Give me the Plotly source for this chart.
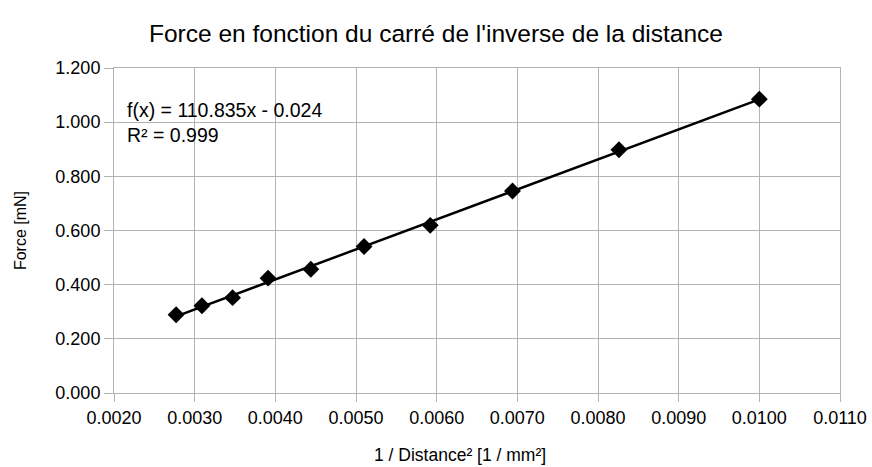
import plotly.graph_objects as go

# Data
inv_dist_sq = [0.00277, 0.00309, 0.00347, 0.00391, 0.00444, 0.00510, 0.00592, 0.00694, 0.00826, 0.01000]
force = [0.289, 0.322, 0.352, 0.424, 0.457, 0.541, 0.619, 0.746, 0.898, 1.085]
slope = 110.835
intercept = -0.024
r_squared = 0.999
x_ticks = [0.0020, 0.0030, 0.0040, 0.0050, 0.0060, 0.0070, 0.0080, 0.0090, 0.0100, 0.0110]
y_ticks = [0.0, 0.2, 0.4, 0.6, 0.8, 1.0, 1.2]

trend_x = [min(inv_dist_sq), max(inv_dist_sq)]
trend_y = [slope * v + intercept for v in trend_x]

FONT = "Liberation Sans, Arial, sans-serif"
GRID = "#b3b3b3"

W, H = 872, 467
L, R, T, B = 114, 32, 68, 74
PW, PH = W - L - R, H - T - B

fig = go.Figure()
fig.add_trace(go.Scatter(x=trend_x, y=trend_y, mode="lines",
                         line=dict(color="black", width=2.5), showlegend=False, hoverinfo="skip"))
fig.add_trace(go.Scatter(x=inv_dist_sq, y=force, mode="markers",
                         marker=dict(symbol="diamond", size=13, color="black"), showlegend=False))

fig.update_layout(
    width=W, height=H,
    margin=dict(l=L, r=R, t=T, b=B, autoexpand=False),
    paper_bgcolor="white", plot_bgcolor="white",
    font=dict(family=FONT, color="black"),
    title=dict(text="Force en fonction du carré de l'inverse de la distance",
               x=436 / W, xanchor="center", y=1 - 33 / H, yanchor="middle",
               font=dict(size=24.5, family=FONT, color="black")),
    xaxis=dict(range=[0.0020, 0.0110], tickvals=x_ticks,
               ticktext=[f"{v:.4f}" for v in x_ticks],
               showgrid=True, gridcolor=GRID, gridwidth=1,
               showline=True, linecolor=GRID, mirror=True, linewidth=1,
               ticks="outside", ticklen=8, tickcolor=GRID, automargin=False,
               ticklabeloverflow="allow",
               tickfont=dict(size=18), zeroline=False),
    yaxis=dict(range=[0, 1.2], tickvals=y_ticks,
               ticktext=[f"{v:.3f}" for v in y_ticks],
               showgrid=True, gridcolor=GRID, gridwidth=1,
               showline=True, linecolor=GRID, mirror=True, linewidth=1,
               ticks="outside", ticklen=9, tickcolor=GRID, automargin=False,
               tickfont=dict(size=18), zeroline=False,
               title=dict(text="Force [mN]", font=dict(size=16), standoff=24)),
    annotations=[
        dict(text=f"f(x) = {slope:.3f}x - {abs(intercept):.3f}<br>R² = {r_squared:.3f}",
             xref="paper", yref="paper", x=11 / PW, y=1 - 29 / PH,
             xanchor="left", yanchor="top", align="left", showarrow=False,
             font=dict(size=19.5, family=FONT, color="black")),
        dict(text="1 / Distance² [1 / mm²]",
             xref="paper", yref="paper", x=(460 - L) / PW, y=-(455 - (T + PH)) / PH,
             xanchor="center", yanchor="middle", showarrow=False,
             font=dict(size=17.5, family=FONT, color="black")),
    ],
)

fig.write_html("out.html", config={"displayModeBar": False},
               post_script="document.body.style.margin='0';document.body.style.overflow='hidden';")
